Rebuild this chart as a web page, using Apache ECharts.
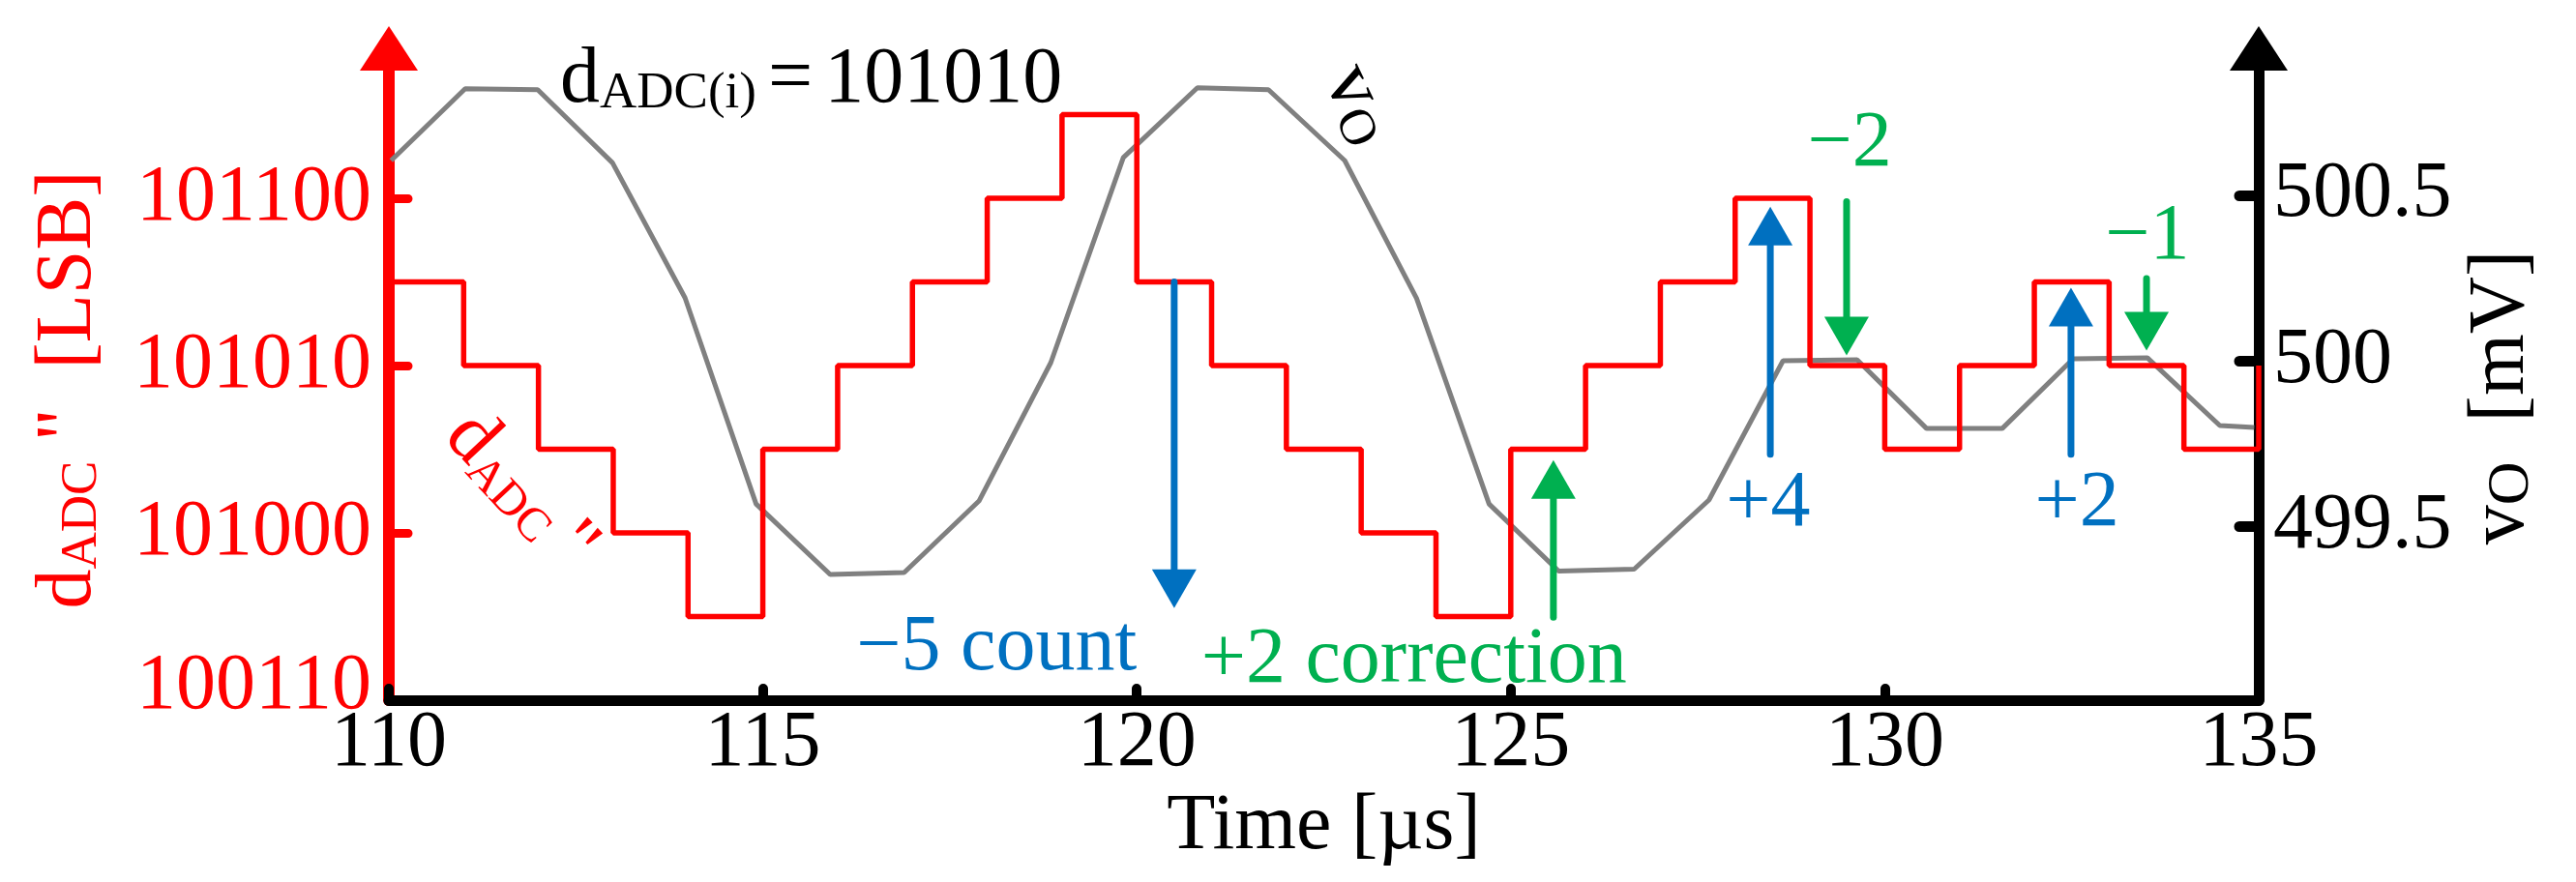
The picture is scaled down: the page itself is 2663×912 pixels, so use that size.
<!DOCTYPE html>
<html>
<head>
<meta charset="utf-8">
<script src="https://cdn.jsdelivr.net/npm/echarts@6/dist/echarts.min.js"></script>
<style>
html,body{margin:0;padding:0;background:#ffffff;}
#chart{width:2663px;height:912px;}
</style>
</head>
<body>
<div id="chart"></div>
<script>
// ---------------- data ----------------
const stepTimes  = [110,111,112,113,114,115,116,117,118,119,120,121,122,123,124,125,126,127,128,129,130,131,132,133,134,135];
const stepLevels = [43,42,41,40,39,41,42,43,44,45,43,42,41,40,39,41,42,43,44,42,41,42,43,42,41,42];

const voTimes  = [110.03,111.02,111.99,112.99,113.96,114.91,115.9,116.89,117.89,118.85,119.82,120.81,121.76,122.78,123.74,124.71,125.64,126.65,127.65,128.64,129.63,130.56,131.57,132.52,133.51,134.48,134.94];
const voValues = [500.605,500.822,500.819,500.598,500.19,499.567,499.354,499.36,499.576,499.994,500.614,500.825,500.819,500.605,500.189,499.567,499.364,499.37,499.579,500.0,500.003,499.795,499.795,500.006,500.009,499.804,499.798];

const leftTickValues  = [38,40,42,44];
const leftTickLabels  = ['100110','101000','101010','101100'];
const rightTickValues = [499.5,500,500.5];
const rightTickLabels = ['499.5','500','500.5'];

const arrowTimes = [120.5,125.57,128.47,129.49,132.49,133.5];
const arrowFrom  = [43,38.99,40.94,43.96,40.94,43.04];
const arrowTo    = [39.10,40.87,43.90,42.12,42.93,42.18];
const arrowKinds = ['count','correction','count','correction','count','correction'];

const noteTexts  = ['\u22125 count','+2 correction','+4','\u22122','+2','\u22121'];
const noteTimes  = [120.0,120.86,128.44,129.53,132.57,133.51];
const noteLevels = [38.62,38.47,40.34,44.64,40.34,43.53];
const noteKinds  = ['count','correction','count','correction','count','correction'];
const noteAlign  = ['right','left','center','center','center','center'];

const labelTexts  = ['{a|d}{b|ADC(i)}{s| }{a|=}{s| }{a|101010}','{a|d}{c|ADC }{a|"}','{a|v}{b|O}'];
const labelTimes  = [112.29,111.76,122.97];
const labelLevels = [45.41,40.5,45.12];
const labelKinds  = ['black','red','black'];
const labelAlign  = ['left','center','center'];
const labelRotate = [0,-0.82,-1.13];

// ---------------- style ----------------
const FONT = 'Liberation Serif';
const RED = '#ff0000', GRAY = '#808080', BLACK = '#000000';
const kindColor = {count:'#0070c0', correction:'#00b050', red:RED, black:BLACK};

function richFor(color){
  return {
    a:{fontFamily:FONT,fontSize:82,lineHeight:82,verticalAlign:'bottom',fill:color,color:color},
    b:{fontFamily:FONT,fontSize:53,lineHeight:42,verticalAlign:'bottom',fill:color,color:color},
    c:{fontFamily:FONT,fontSize:49,lineHeight:40,verticalAlign:'bottom',fill:color,color:color},
    o:{fontFamily:FONT,fontSize:62,lineHeight:48,verticalAlign:'bottom',fill:color,color:color},
    s:{fontFamily:FONT,fontSize:48,lineHeight:40,verticalAlign:'bottom',fill:color,color:color}
  };
}

const chart = echarts.init(document.getElementById('chart'), null, {renderer:'canvas'});

const option = {
  animation:false,
  backgroundColor:'#ffffff',
  grid:{left:402,right:328,top:50,bottom:188,containLabel:false,outerBoundsMode:'none'},
  xAxis:{
    type:'value',min:110,max:135,interval:5,
    name:'Time [\u00b5s]',nameLocation:'middle',nameGap:77,
    nameTextStyle:{fontFamily:FONT,fontSize:82,color:BLACK},
    axisLine:{onZero:false,lineStyle:{color:BLACK,width:11}},
    axisTick:{inside:true,length:12,lineStyle:{color:BLACK,width:10,cap:'round'}},
    axisLabel:{fontFamily:FONT,fontSize:82,color:BLACK,margin:4},
    splitLine:{show:false}
  },
  yAxis:[
    {
      type:'value',position:'left',min:38,max:45.792,
      name:'{a|d}{b|ADC}{a| "  [LSB]}',nameLocation:'middle',nameRotate:90,nameGap:290,
      nameTextStyle:{fontFamily:FONT,fontSize:82,color:RED,rich:richFor(RED),padding:[0,32,0,0]},
      axisLine:{show:true,onZero:false,symbol:['none','triangle'],symbolSize:[60,46],lineStyle:{color:RED,width:12}},
      axisTick:{show:true,inside:true,length:20,customValues:[40,42,44],lineStyle:{color:RED,width:9,cap:'round'}},
      axisLabel:{customValues:leftTickValues,fontFamily:FONT,fontSize:82,color:RED,margin:18,
        rich:{lo:{fontFamily:FONT,fontSize:82,color:RED,padding:[0,0,28,0]}},
        formatter:function(v){
          const i=leftTickValues.indexOf(v);
          if(i<0) return '';
          return i===0 ? '{lo|'+leftTickLabels[i]+'}' : leftTickLabels[i];
        }},
      splitLine:{show:false}
    },
    {
      type:'value',position:'right',min:498.974,max:500.944,
      name:'{a|v}{o|O}{a|  [mV]}',nameLocation:'middle',nameRotate:90,nameGap:204,
      nameTextStyle:{fontFamily:FONT,fontSize:82,color:BLACK,rich:richFor(BLACK),padding:[0,48,0,0]},
      axisLine:{show:true,onZero:false,symbol:['none','triangle'],symbolSize:[60,46],lineStyle:{color:BLACK,width:11}},
      axisTick:{show:true,inside:true,length:20,customValues:rightTickValues,lineStyle:{color:BLACK,width:11,cap:'round'}},
      axisLabel:{customValues:rightTickValues,fontFamily:FONT,fontSize:82,color:BLACK,margin:15,
        formatter:function(v){const i=rightTickValues.indexOf(v);return i>=0?rightTickLabels[i]:'';}},
      splitLine:{show:false}
    }
  ],
  series:[
    {
      name:'vO',type:'line',xAxisIndex:0,yAxisIndex:1,
      data:voTimes.map((t,i)=>[t,voValues[i]]),
      showSymbol:false,symbol:'none',
      lineStyle:{color:GRAY,width:5},z:2
    },
    {
      name:'dADC',type:'line',xAxisIndex:0,yAxisIndex:0,step:'end',
      data:stepTimes.map((t,i)=>[t,stepLevels[i]]),
      showSymbol:false,symbol:'none',
      lineStyle:{color:RED,width:5.5},z:3
    },
    {
      name:'arrows',type:'custom',xAxisIndex:0,yAxisIndex:0,z:4,
      data:arrowTimes.map((t,i)=>[t,arrowFrom[i],arrowTo[i],i]),
      encode:{x:0,y:[1,2]},
      renderItem:function(params,api){
        const i=api.value(3);
        const t=api.value(0);
        const p0=api.coord([t,api.value(1)]);
        const p1=api.coord([t,api.value(2)]);
        const dir=p1[1]>p0[1]?1:-1;
        const headLen=40, headW=46;
        const baseY=p1[1]-dir*headLen;
        const c=kindColor[arrowKinds[i]];
        return {type:'group',children:[
          {type:'line',shape:{x1:p0[0],y1:p0[1],x2:p1[0],y2:baseY},style:{stroke:c,lineWidth:7,lineCap:'round'}},
          {type:'polygon',shape:{points:[[p1[0],p1[1]],[p1[0]-headW/2,baseY],[p1[0]+headW/2,baseY]]},style:{fill:c}}
        ]};
      }
    },
    {
      name:'notes',type:'custom',xAxisIndex:0,yAxisIndex:0,z:5,
      data:noteTimes.map((t,i)=>[t,noteLevels[i],i]),
      encode:{x:0,y:1},
      renderItem:function(params,api){
        const i=api.value(2);
        const p=api.coord([api.value(0),api.value(1)]);
        return {type:'text',x:p[0],y:p[1],style:{
          text:noteTexts[i],fill:kindColor[noteKinds[i]],fontFamily:FONT,fontSize:82,
          align:noteAlign[i],verticalAlign:'middle'}};
      }
    },
    {
      name:'labels',type:'custom',xAxisIndex:0,yAxisIndex:0,z:5,
      data:labelTimes.map((t,i)=>[t,labelLevels[i],i]),
      encode:{x:0,y:1},
      renderItem:function(params,api){
        const i=api.value(2);
        const p=api.coord([api.value(0),api.value(1)]);
        const c=kindColor[labelKinds[i]];
        return {type:'text',x:p[0],y:p[1],rotation:labelRotate[i],style:{
          text:labelTexts[i],rich:richFor(c),fill:c,fontFamily:FONT,fontSize:82,
          align:labelAlign[i],verticalAlign:'middle'}};
      }
    }
  ]
};
chart.setOption(option);
</script>
</body>
</html>
